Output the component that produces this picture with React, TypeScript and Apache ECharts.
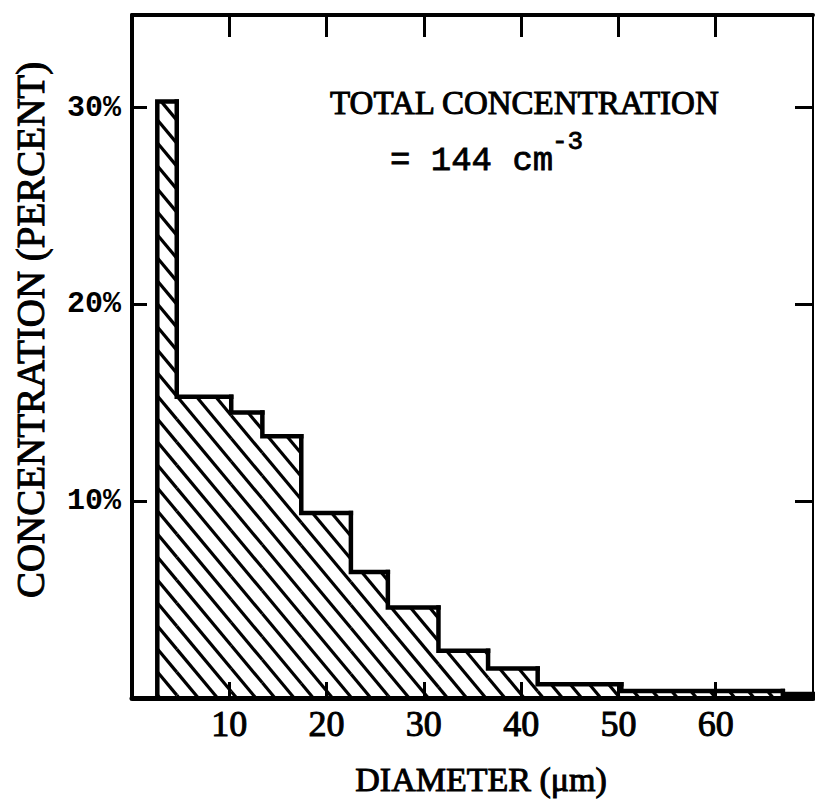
import React, { useEffect, useRef } from "react";
import * as echarts from "echarts";

// Histogram bins (diameter, µm) and concentration (percent)
const binStart = [2.6, 4.6, 10.2, 13.4, 17.4, 22.5, 26.3, 31.5, 36.6, 41.7, 50.3, 66.9];
const binEnd = [4.6, 10.2, 13.4, 17.4, 22.5, 26.3, 31.5, 36.6, 41.7, 50.3, 66.9, 70];
const concentration = [30.3, 15.3, 14.5, 13.3, 9.4, 6.4, 4.6, 2.4, 1.5, 0.7, 0.35, 0.2];

const xTicks = [10, 20, 30, 40, 50, 60];
const yTicks = [10, 20, 30];

const yTitle = "CONCENTRATION (PERCENT)";
const xTitle = "DIAMETER (μm)";
const noteLine1 = "TOTAL CONCENTRATION";
const noteLine2 = "= 144 cm";
const noteSup = "-3";

const HATCH_SLOPE = 1.2;
const HATCH_STEP = 23;

export default function App() {
  const ref = useRef<HTMLDivElement>(null);

  useEffect(() => {
    if (!ref.current) return;
    const chart = echarts.init(ref.current, undefined, { renderer: "svg" });

    // [start, end, value, previous bin value (0 for first), is last]
    const data = binStart.map((s, i) => [
      s,
      binEnd[i],
      concentration[i],
      i === 0 ? 0 : concentration[i - 1],
      i === binStart.length - 1 ? 1 : 0,
    ]);

    const renderItem = (params: any, api: any) => {
      const x0 = api.value(0);
      const x1 = api.value(1);
      const v = api.value(2);
      const prev = api.value(3);
      const isLast = api.value(4) === 1;
      const pTL = api.coord([x0, v]);
      const pBR = api.coord([x1, 0]);
      const prevY = api.coord([x0, prev])[1];
      const left = pTL[0];
      const right = pBR[0];
      const top = pTL[1];
      const bottom = pBR[1];
      const children: any[] = [];
      const T = HATCH_SLOPE;
      const bMin = top - T * right;
      const bMax = bottom - T * left;
      for (let k = Math.ceil(bMin / HATCH_STEP); k * HATCH_STEP <= bMax; k++) {
        const b = k * HATCH_STEP;
        const xa = Math.max(left, (top - b) / T);
        const xb = Math.min(right, (bottom - b) / T);
        if (xb > xa + 0.5) {
          children.push({
            type: "line",
            shape: { x1: xa, y1: T * xa + b, x2: xb, y2: T * xb + b },
            style: { stroke: "#000", lineWidth: 3.2 },
          });
        }
      }
      const pts: number[][] = [
        [left, prevY],
        [left, top],
        [right, top],
      ];
      if (isLast) pts.push([right, bottom]);
      children.push({
        type: "polyline",
        shape: { points: pts },
        style: { fill: "none", stroke: "#000", lineWidth: 4.5, lineJoin: "miter", lineCap: "square" },
      });
      return { type: "group", children };
    };

    const serif = "Liberation Serif";
    const mono = "Liberation Mono";
    const heavy = { textBorderColor: "#000", textBorderWidth: 1 };

    chart.setOption({
      animation: false,
      backgroundColor: "#fff",
      grid: { left: 132, right: 2, top: 15, bottom: 114, outerBoundsMode: "none", containLabel: false },
      xAxis: [
        {
          type: "value",
          position: "bottom",
          min: 0,
          max: 70,
          interval: 10,
          axisLine: { show: true, onZero: false, lineStyle: { color: "#000", width: 5 } },
          axisTick: { show: true, inside: true, length: 16, customValues: xTicks, lineStyle: { color: "#000", width: 3 } },
          axisLabel: {
            show: true,
            customValues: xTicks,
            formatter: (v: number) => (v === 0 || v === 70 ? "" : String(v)),
            color: "#000",
            fontFamily: serif,
            fontSize: 36,
            margin: 8,
            ...heavy,
          },
          splitLine: { show: false },
        },
        {
          type: "value",
          position: "top",
          min: 0,
          max: 70,
          interval: 10,
          axisLine: { show: true, onZero: false, lineStyle: { color: "#000", width: 4 } },
          axisTick: { show: true, inside: true, length: 22, customValues: xTicks, lineStyle: { color: "#000", width: 3 } },
          axisLabel: { show: false },
          splitLine: { show: false },
        },
      ],
      yAxis: [
        {
          type: "value",
          position: "left",
          min: 0,
          max: 34.7,
          interval: 10,
          axisLine: { show: true, onZero: false, lineStyle: { color: "#000", width: 4 } },
          axisTick: { show: true, inside: true, length: 15, customValues: yTicks, lineStyle: { color: "#000", width: 3 } },
          axisLabel: {
            show: true,
            customValues: yTicks,
            formatter: (v: number) => (yTicks.includes(v) ? v + "%" : ""),
            color: "#000",
            fontFamily: mono,
            fontWeight: "bold",
            fontSize: 30,
            margin: 11,
          },
          splitLine: { show: false },
        },
        {
          type: "value",
          position: "right",
          min: 0,
          max: 34.7,
          interval: 10,
          axisLine: { show: true, onZero: false, lineStyle: { color: "#000", width: 2 } },
          axisTick: { show: true, inside: true, length: 18, customValues: yTicks, lineStyle: { color: "#000", width: 3 } },
          axisLabel: { show: false },
          splitLine: { show: false },
        },
      ],
      series: [
        {
          type: "custom",
          xAxisIndex: 0,
          yAxisIndex: 0,
          renderItem,
          encode: { x: [0, 1], y: 2 },
          data,
          z: 3,
        },
      ],
      graphic: [
        {
          type: "text",
          x: 30,
          y: 330,
          rotation: Math.PI / 2,
          style: { text: yTitle, fontFamily: serif, fontSize: 39, fill: "#000", align: "center", verticalAlign: "middle", stroke: "#000", lineWidth: 1 },
        },
        {
          type: "text",
          x: 481,
          y: 779,
          style: { text: xTitle, fontFamily: serif, fontSize: 34, fill: "#000", align: "center", verticalAlign: "middle", stroke: "#000", lineWidth: 1 },
        },
        {
          type: "text",
          x: 330,
          y: 103,
          style: { text: noteLine1, fontFamily: serif, fontSize: 33, fill: "#000", align: "left", verticalAlign: "middle", stroke: "#000", lineWidth: 1 },
        },
        {
          type: "text",
          x: 390,
          y: 161,
          style: { text: noteLine2, fontFamily: mono, fontSize: 34, fill: "#000", align: "left", verticalAlign: "middle", stroke: "#000", lineWidth: 0.8 },
        },
        {
          type: "text",
          x: 552,
          y: 142,
          style: { text: noteSup, fontFamily: mono, fontSize: 26, fill: "#000", align: "left", verticalAlign: "middle", stroke: "#000", lineWidth: 0.8 },
        },
      ],
    });

    return () => chart.dispose();
  }, []);

  return (
    <div
      ref={ref}
      style={{ position: "absolute", left: 0, top: 0, width: 815, height: 812, background: "#fff" }}
    />
  );
}
